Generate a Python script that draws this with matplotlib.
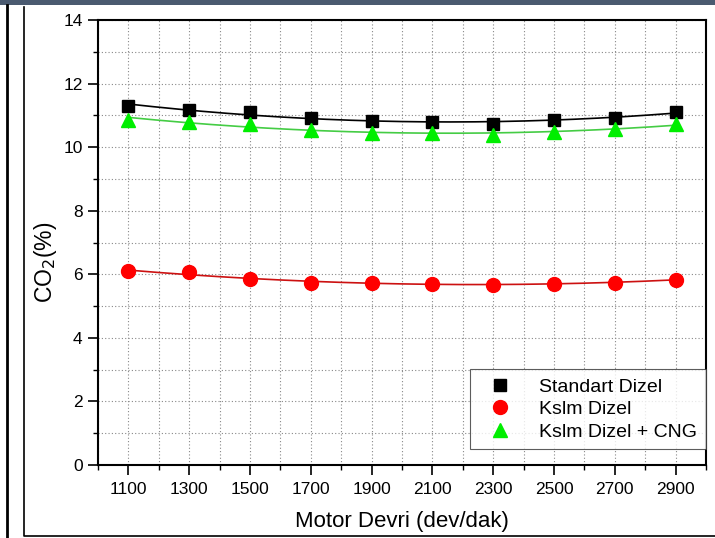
import numpy as np
import matplotlib
matplotlib.use('Agg')
import matplotlib.pyplot as plt
from matplotlib.patches import Rectangle
from matplotlib.lines import Line2D
from matplotlib.ticker import MultipleLocator

plt.rcParams['font.family'] = ['Liberation Sans', 'DejaVu Sans']

# data
rpm = [1100, 1300, 1500, 1700, 1900, 2100, 2300, 2500, 2700, 2900]
standart_dizel = [11.30, 11.18, 11.09, 10.91, 10.82, 10.80, 10.73, 10.85, 10.93, 11.11]
kslm_dizel = [6.10, 6.06, 5.85, 5.73, 5.73, 5.71, 5.67, 5.70, 5.74, 5.83]
kslm_dizel_cng = [10.86, 10.79, 10.73, 10.55, 10.46, 10.43, 10.38, 10.47, 10.56, 10.74]

labels = ['Standart Dizel', 'Kslm Dizel', 'Kslm Dizel + CNG']
series = [standart_dizel, kslm_dizel, kslm_dizel_cng]
markers = ['s', 'o', '^']
marker_colors = ['black', '#ff0000', '#00ee00']
line_colors = ['black', '#cc1111', '#44cc44']
marker_sizes = [8.5, 10, 10]

W, H = 715, 538
fig = plt.figure(figsize=(W / 100, H / 100), dpi=100)

# page decoration around the chart (screenshot frame)
fig.add_artist(Rectangle((0, 1 - 5 / H), 1, 5 / H, transform=fig.transFigure,
                         facecolor='#4a5a70', edgecolor='none'))
fig.add_artist(Line2D([7 / W, 7 / W], [0, 1 - 5 / H], transform=fig.transFigure,
                      color='black', lw=2))
fig.add_artist(Line2D([24 / W, 24 / W, 1], [1 - 7 / H, 1 - 536 / H, 1 - 536 / H],
                      transform=fig.transFigure, color='black', lw=1.2))

ax = fig.add_axes([98 / W, 1 - 465 / H, (706 - 98) / W, (465 - 20) / H])

x = np.array(rpm)
xs = np.linspace(min(rpm), max(rpm), 200)
for y, lab, m, mc, lc, ms in zip(series, labels, markers, marker_colors,
                                 line_colors, marker_sizes):
    coef = np.polyfit(x, y, 2)
    ax.plot(xs, np.polyval(coef, xs), color=lc, lw=1.2, zorder=3)
    ax.plot(rpm, y, linestyle='none', marker=m, color=mc, markersize=ms,
            markeredgecolor=mc, label=lab, zorder=4)

ax.set_xlim(1000, 3000)
ax.set_ylim(0, 14)
ax.set_xticks(rpm)
ax.xaxis.set_minor_locator(MultipleLocator(100))
ax.yaxis.set_major_locator(MultipleLocator(2))
ax.yaxis.set_minor_locator(MultipleLocator(1))

ax.grid(True, which='both', color='#888888', linestyle=(0, (1, 2)), lw=0.8)
ax.set_axisbelow(True)

ax.tick_params(which='major', direction='out', length=7, width=1.2,
               labelsize=12.5, pad=4)
ax.tick_params(axis='x', which='major', pad=5)
ax.tick_params(which='minor', direction='out', length=3.5, width=1.0)
ax.tick_params(top=False, right=False, which='both')
for s in ax.spines.values():
    s.set_linewidth(1.5)

ax.set_xlabel('Motor Devri (dev/dak)', fontsize=16)
ax.xaxis.set_label_coords(0.5, -0.104)
ax.set_ylabel('CO$_2$(%)', fontsize=16.5)
ax.yaxis.set_label_coords(-0.064, 0.456)

leg = ax.legend(loc='lower right', bbox_to_anchor=(1.0, 0.035), fontsize=14,
                frameon=True, fancybox=False, edgecolor='#333333',
                borderpad=0.45, handletextpad=0.9, labelspacing=0.25,
                handlelength=2.2, borderaxespad=0.0)
leg.get_frame().set_linewidth(0.8)

fig.savefig('out.png', dpi=100)
